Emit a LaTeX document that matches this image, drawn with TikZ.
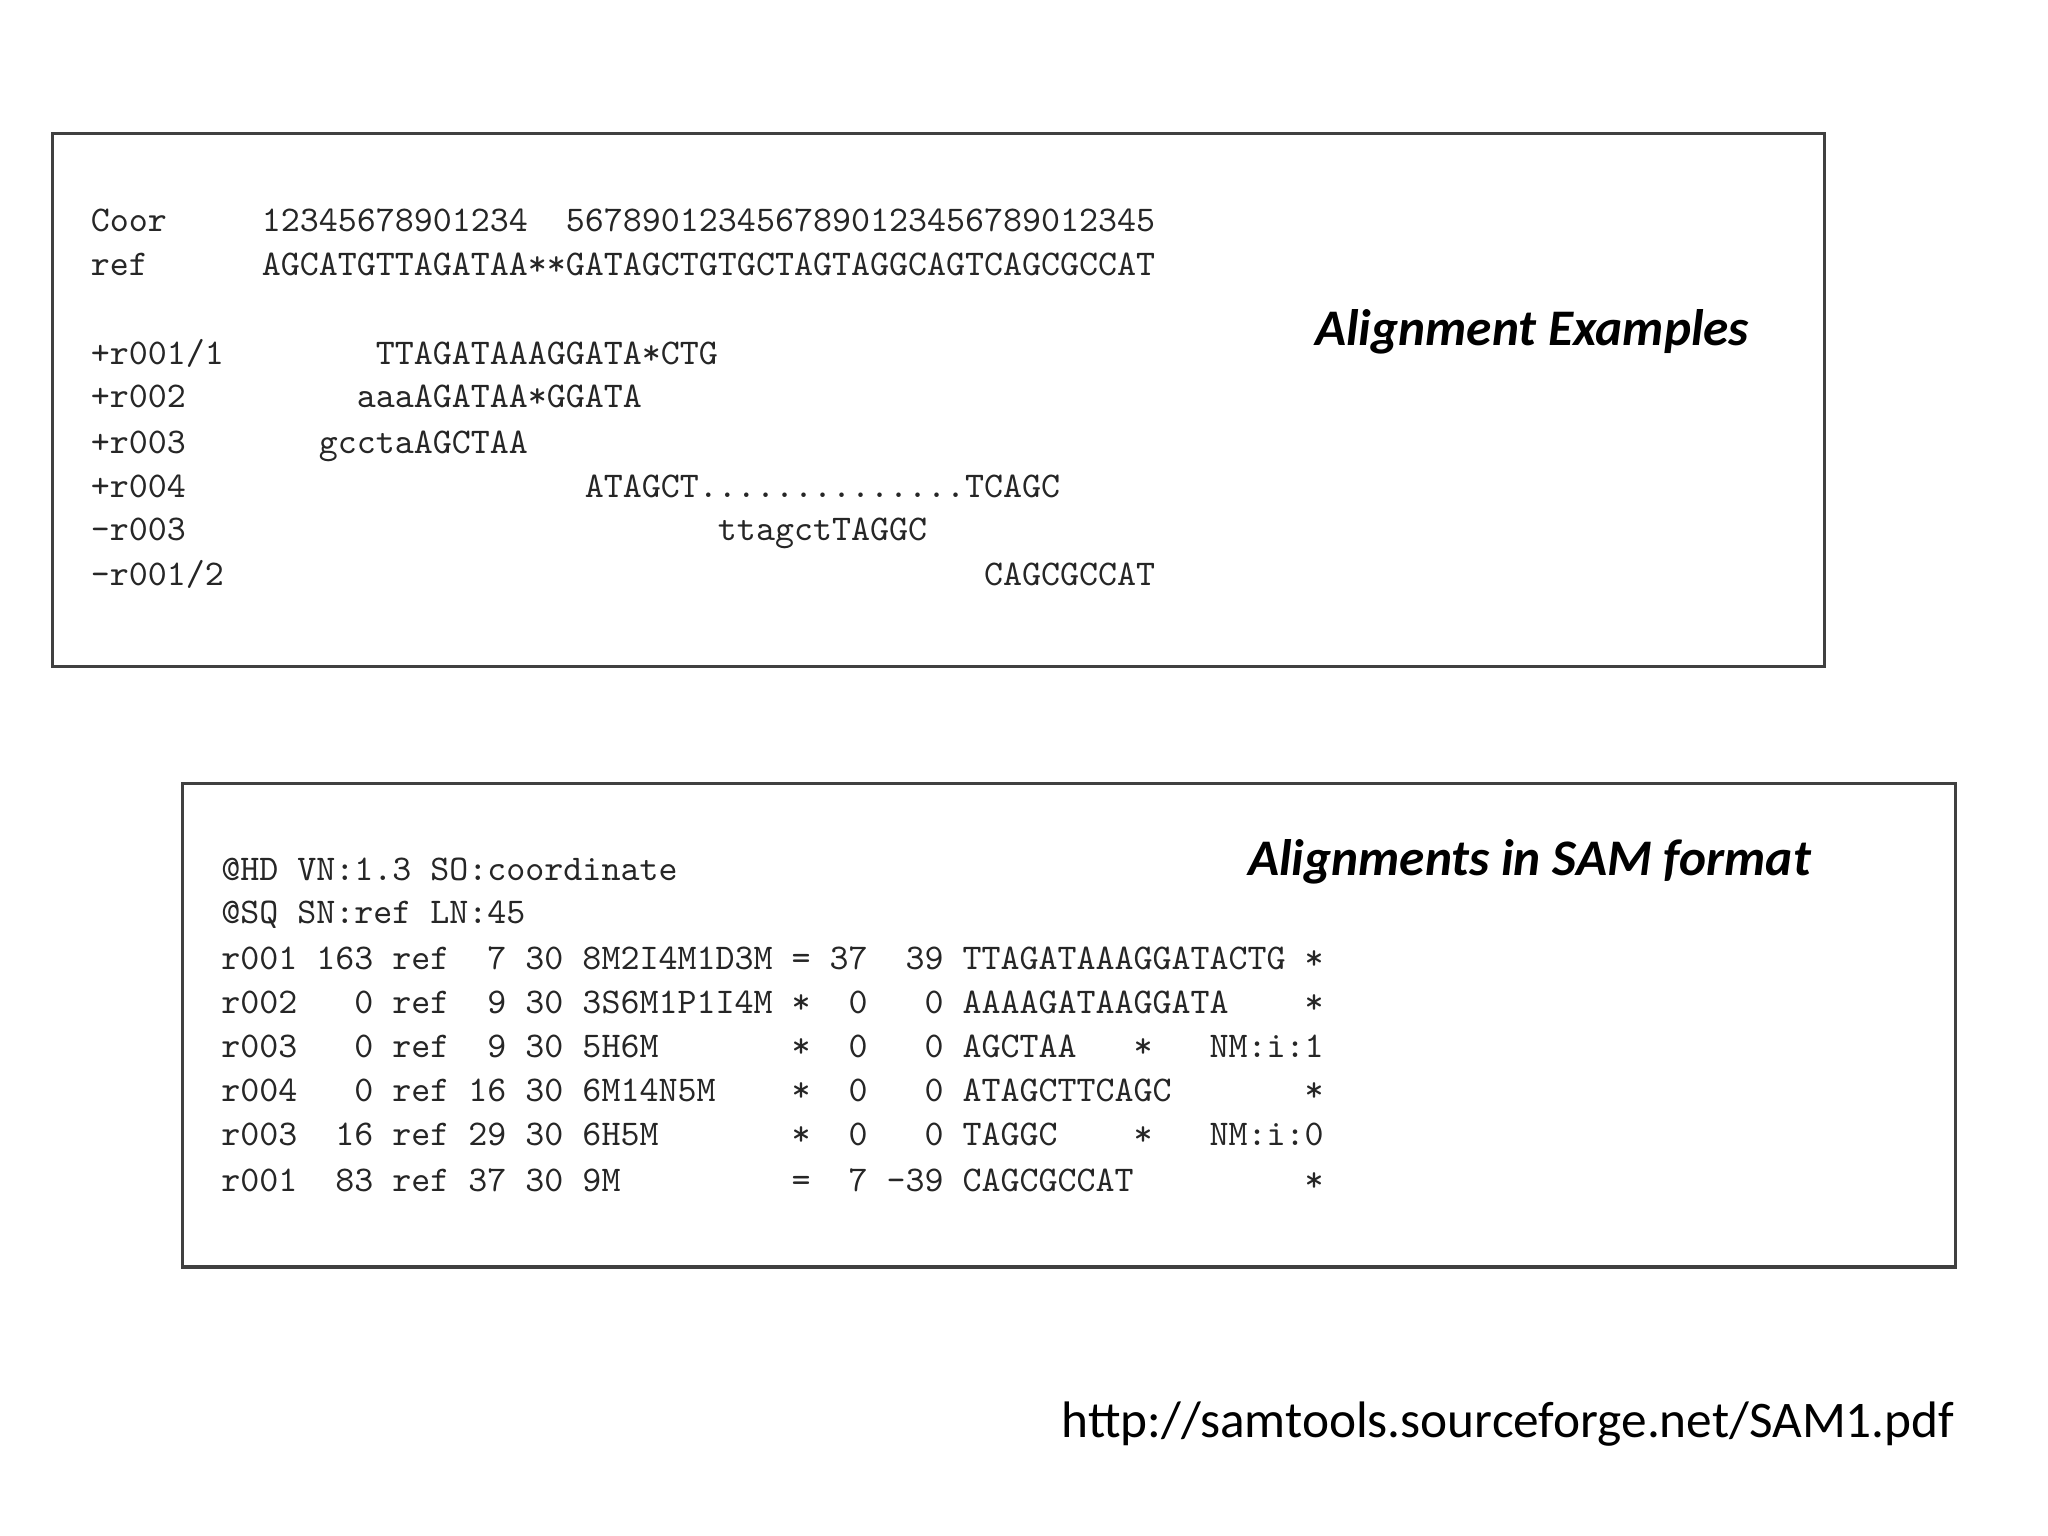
\documentclass[tikz,border=0pt]{standalone}
\usepackage{fontspec}
\newfontfamily\carlito{Carlito}
\begin{document}
\begin{tikzpicture}[x=0.013061cm,y=-0.013061cm,
  tt/.style={anchor=base west,inner sep=0pt,font=\ttfamily\fontsize{10.3}{12}\selectfont,text=black!85},
  lab/.style={inner sep=0pt,font=\carlito\bfseries\itshape\fontsize{14.6}{17}\selectfont},
  box/.style={draw=black!75,line width=0.9pt}]
\useasboundingbox (0,0) rectangle (1568,1176);
\draw[box] (40,102) rectangle (1397,510);
\draw[box] (140,600) rectangle (1497,970);
\node[tt] (t1) at (69,177) {Coor~~~~~12345678901234~~5678901234567890123456789012345};
\node[tt] (t2) at (69,211) {ref~~~~~~AGCATGTTAGATAA**GATAGCTGTGCTAGTAGGCAGTCAGCGCCAT};
\node[tt] (t3) at (69,279) {+r001/1~~~~~~~~TTAGATAAAGGATA*CTG};
\node[tt] (t4) at (69,312) {+r002~~~~~~~~~aaaAGATAA*GGATA};
\node[tt] (t5) at (69,347) {+r003~~~~~~~gcctaAGCTAA};
\node[tt] (t6) at (69,381) {+r004~~~~~~~~~~~~~~~~~~~~~ATAGCT..............TCAGC};
\node[tt] (t7) at (69,414) {-r003~~~~~~~~~~~~~~~~~~~~~~~~~~~~ttagctTAGGC};
\node[tt] (t8) at (69,448) {-r001/2~~~~~~~~~~~~~~~~~~~~~~~~~~~~~~~~~~~~~~~~CAGCGCCAT};
\node[lab] (l1) at (1173,254) {Alignment Examples};
\node[tt] (s1) at (169,674) {@HD VN:1.3 SO:coordinate};
\node[tt] (s2) at (169,707) {@SQ SN:ref LN:45};
\node[tt] (s3) at (169,742) {r001~163~ref~~7~30~8M2I4M1D3M~=~37~~39~TTAGATAAAGGATACTG~*};
\node[tt] (s4) at (169,776) {r002~~~0~ref~~9~30~3S6M1P1I4M~*~~0~~~0~AAAAGATAAGGATA~~~~*};
\node[tt] (s5) at (169,810) {r003~~~0~ref~~9~30~5H6M~~~~~~~*~~0~~~0~AGCTAA~~~*~~~NM:i:1};
\node[tt] (s6) at (169,843) {r004~~~0~ref~16~30~6M14N5M~~~~*~~0~~~0~ATAGCTTCAGC~~~~~~~*};
\node[tt] (s7) at (169,877) {r003~~16~ref~29~30~6H5M~~~~~~~*~~0~~~0~TAGGC~~~~*~~~NM:i:0};
\node[tt] (s8) at (169,912) {r001~~83~ref~37~30~9M~~~~~~~~~=~~7~-39~CAGCGCCAT~~~~~~~~~*};
\node[lab] (l2) at (1171,660) {Alignments in SAM format};
\node[inner sep=0pt,font=\carlito\fontsize{14.6}{17}\selectfont,anchor=east] (url) at (1497,1090) {http://samtools.sourceforge.net/SAM1.pdf};
\end{tikzpicture}
\end{document}
